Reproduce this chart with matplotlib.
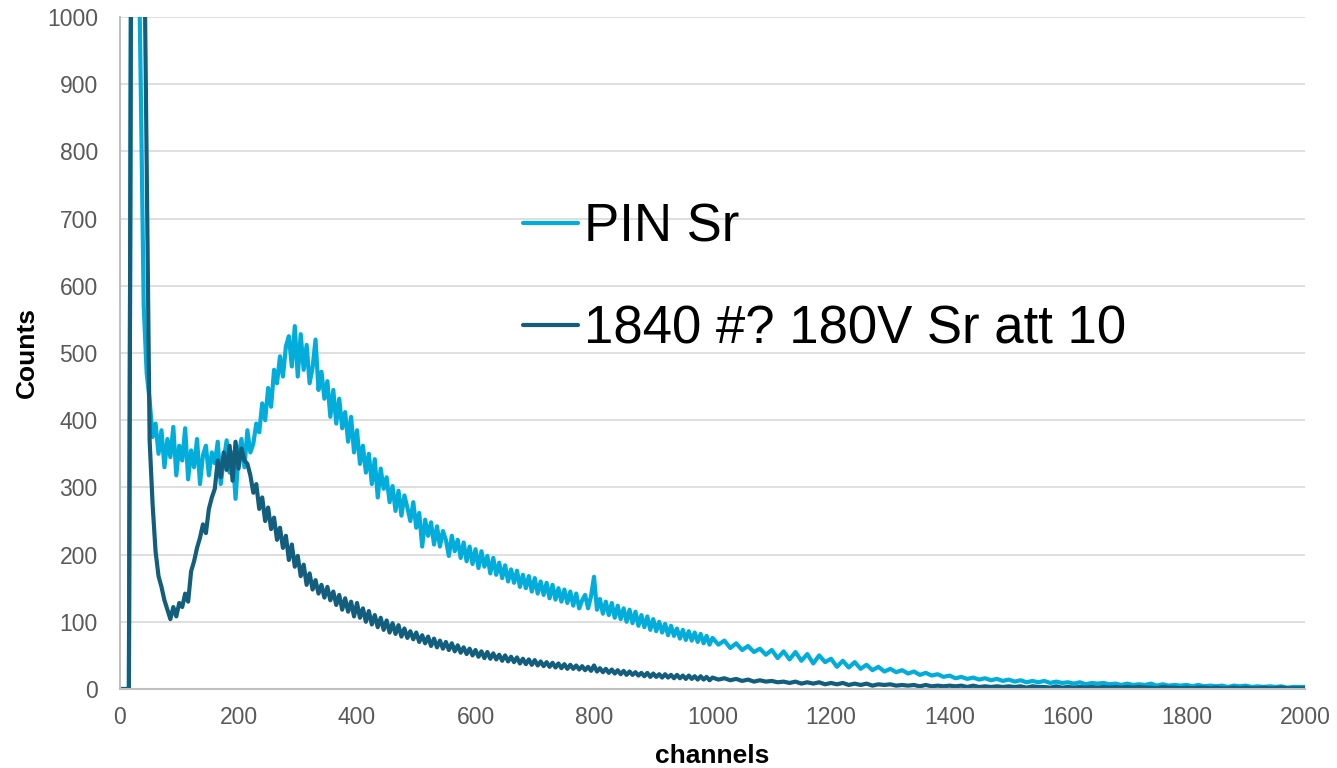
import numpy as np
import matplotlib
matplotlib.use("Agg")
import matplotlib.pyplot as plt

plt.rcParams['font.family'] = ['Liberation Sans', 'DejaVu Sans']

# channel grid: 5-channel steps up to 995, then 10-channel steps to 2000
channels = np.concatenate([np.arange(0, 1000, 5), np.arange(1000, 2001, 10)])

# PIN Sr spectrum (counts)
pin_sr = [
    0, 0, 0, 0, 1500, 1500, 1200, 900, 570, 470, 430, 375, 395, 350, 385, 330, 372, 345, 390, 318,
    362, 340, 388, 312, 355, 330, 372, 305, 348, 362, 318, 352, 336, 368, 305, 340, 370, 322, 352, 283,
    348, 372, 330, 385, 352, 365, 395, 382, 425, 400, 448, 420, 475, 455, 495, 465, 510, 525, 480, 540,
    465, 528, 475, 512, 455, 478, 520, 445, 472, 432, 458, 405, 445, 395, 432, 388, 412, 368, 405, 352,
    385, 335, 362, 322, 350, 305, 342, 285, 328, 298, 315, 278, 302, 265, 295, 258, 288, 270, 250, 278,
    240, 262, 212, 252, 228, 248, 215, 242, 212, 235, 222, 198, 228, 205, 222, 195, 218, 190, 212, 186,
    208, 180, 205, 182, 198, 172, 195, 170, 188, 165, 184, 160, 178, 158, 176, 152, 170, 150, 168, 145,
    165, 142, 160, 140, 158, 135, 155, 133, 150, 130, 148, 128, 145, 124, 142, 120, 132, 140, 120, 138,
    167, 118, 134, 112, 130, 110, 128, 106, 124, 104, 120, 100, 118, 98, 115, 94, 110, 92, 108, 88,
    104, 86, 100, 84, 97, 80, 94, 79, 90, 75, 88, 73, 86, 72, 84, 70, 82, 68, 79, 66,
    76, 66, 72, 61, 68, 58, 64, 55, 60, 51,
    58, 46, 56, 44, 55, 42, 52, 38, 50, 40,
    45, 33, 42, 32, 40, 30, 36, 28, 33, 26,
    30, 25, 28, 23, 26, 21, 24, 20, 22, 18,
    20, 16, 18, 15, 17, 14, 16, 13, 15, 12,
    14, 11, 13, 10, 12, 10, 12, 9, 11, 9,
    10, 8, 10, 7, 9, 8, 9, 7, 8, 6,
    8, 6, 7, 6, 8, 5, 7, 5, 6, 5,
    6, 4, 6, 4, 5, 4, 5, 3, 5, 4,
    5, 3, 4, 3, 4, 3, 4, 2, 3, 3,
    3,
]

# 1840 #? 180V Sr att 10 spectrum (counts)
sipm_1840 = [
    0, 0, 0, 0, 1500, 1500, 1500, 1500, 1200, 780, 370, 275, 205, 168, 152, 132, 118, 104, 122, 108,
    128, 122, 142, 130, 175, 190, 210, 225, 245, 232, 268, 285, 298, 340, 315, 352, 326, 362, 310, 368,
    328, 358, 340, 335, 318, 292, 305, 268, 285, 250, 270, 238, 255, 222, 240, 210, 228, 192, 215, 182,
    198, 168, 185, 155, 172, 148, 162, 142, 155, 136, 152, 132, 145, 125, 140, 118, 135, 115, 130, 108,
    128, 106, 120, 100, 116, 96, 110, 92, 106, 88, 102, 84, 98, 82, 95, 78, 90, 76, 86, 74,
    84, 70, 80, 68, 78, 64, 75, 62, 72, 60, 70, 58, 68, 56, 65, 54, 62, 52, 60, 50,
    58, 48, 56, 46, 55, 45, 53, 44, 51, 42, 50, 41, 48, 40, 47, 38, 45, 37, 44, 36,
    43, 35, 41, 34, 40, 33, 39, 32, 38, 31, 37, 30, 36, 30, 35, 29, 34, 28, 33, 27,
    35, 26, 31, 25, 30, 24, 29, 23, 28, 22, 27, 21, 26, 21, 25, 20, 24, 19, 24, 18,
    23, 18, 22, 17, 22, 17, 21, 16, 21, 16, 20, 15, 20, 15, 19, 14, 19, 14, 18, 13,
    17, 14, 16, 13, 15, 12, 14, 11, 13, 11,
    12, 10, 11, 9, 11, 8, 10, 8, 10, 7,
    9, 7, 9, 6, 8, 6, 8, 5, 7, 6,
    7, 5, 6, 5, 6, 4, 6, 4, 5, 4,
    5, 4, 5, 3, 5, 3, 4, 3, 4, 3,
    4, 3, 4, 2, 4, 3, 3, 2, 4, 2,
    3, 2, 3, 2, 3, 2, 3, 2, 3, 2,
    3, 2, 3, 2, 2, 1, 3, 2, 2, 1,
    2, 1, 2, 2, 1, 2, 1, 1, 2, 1,
    2, 1, 1, 2, 1, 1, 2, 1, 1, 1,
    1,
]

series_labels = ["PIN Sr", "1840 #? 180V Sr att 10"]
series_colors = ["#02ADDB", "#125E7C"]

x_ticks = list(range(0, 2001, 200))
y_ticks = list(range(0, 1001, 100))

fig = plt.figure(figsize=(13.37, 7.68), dpi=100)
ax = fig.add_axes([120 / 1337, 1 - 689 / 768, (1305 - 120) / 1337, (689 - 17) / 768])

for values, label, color in zip([pin_sr, sipm_1840], series_labels, series_colors):
    ax.plot(channels, values, color=color, lw=3.0, label=label,
            solid_joinstyle="round", solid_capstyle="round")

ax.set_xlim(0, 2000)
ax.set_ylim(0, 1000)
ax.set_xticks(x_ticks)
ax.set_yticks(y_ticks)

ax.yaxis.grid(True, color="#D9D9D9", lw=1.2)
ax.set_axisbelow(True)
for side in ("top", "right"):
    ax.spines[side].set_visible(False)
for side in ("left", "bottom"):
    ax.spines[side].set_color("#BFBFBF")
    ax.spines[side].set_linewidth(1.5)

ax.tick_params(axis="both", length=0, labelsize=16.5, labelcolor="#595959")
ax.tick_params(axis="y", pad=16)
ax.tick_params(axis="x", pad=12)

ax.set_xlabel("channels", fontsize=19, fontweight="bold", labelpad=11)
ax.set_ylabel("Counts", fontsize=19, fontweight="bold", labelpad=6)

leg = fig.legend(loc="upper left", bbox_to_anchor=(523 / 1337, 1 - 202 / 768),
                 frameon=False, fontsize=38, handlelength=1.04, handletextpad=0.12,
                 borderpad=0, borderaxespad=0, labelspacing=1.0)

fig.savefig("out.png", dpi=100)
